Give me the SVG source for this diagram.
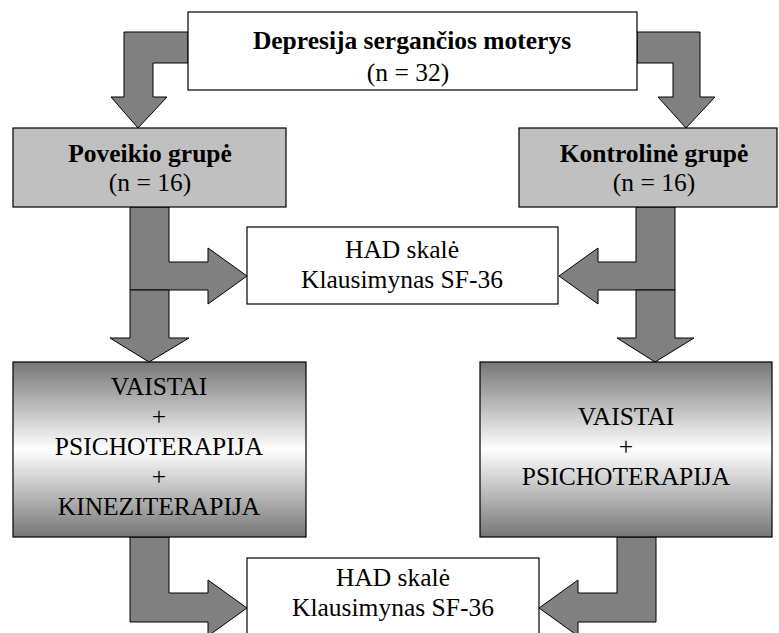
<svg xmlns="http://www.w3.org/2000/svg" width="779" height="633" viewBox="0 0 779 633">
<defs>
<linearGradient id="g" x1="0" y1="0" x2="0" y2="1">
<stop offset="0" stop-color="#767676"/>
<stop offset="0.5" stop-color="#ffffff"/>
<stop offset="1" stop-color="#767676"/>
</linearGradient>
<style>
.box{stroke:#000;stroke-width:1.2}
.white{fill:#fff}
.grey{fill:#c0c0c0}
.grad{fill:url(#g)}
.arr{fill:#808080;stroke:#000;stroke-width:1;stroke-linejoin:miter}
text{font-family:"Liberation Serif","Times New Roman",serif;font-size:25.5px;fill:#000;text-anchor:middle}
.b{font-weight:bold}
</style>
</defs>
<rect width="779" height="633" fill="#fff"/>
<g id="connectors">
<polygon class="arr" points="188,32 124,32 124,97 111,97 138,128 167,97 153,97 153,63 188,63"/>
<polygon class="arr" points="637,32 700,32 700,97 715,97 686,128 658,97 673,97 673,63 637,63"/>
<polygon class="arr" points="130,207 130,290 208,290 208,304 247,276 208,248 208,262 169,262 169,207"/>
<polygon class="arr" points="130,290 130,338 110,338 149,362 189,338 169,338 169,290"/>
<polygon class="arr" points="675,207 675,290 598,290 598,304 559,276 598,248 598,262 636,262 636,207"/>
<polygon class="arr" points="636,290 636,338 617,338 655,362 694,338 675,338 675,290"/>
<polygon class="arr" points="130,537 130,622 208,622 208,636 247,608 208,580 208,593 169,593 169,537"/>
<polygon class="arr" points="656,537 656,622 578,622 578,636 539,608 578,580 578,593 617,593 617,537"/>
</g>
<g id="top">
<rect class="box white" x="188" y="12" width="449" height="78" stroke-width="1.6"/>
<text class="b" x="412" y="49">Depresija sergančios moterys</text>
<text x="408" y="81">(n = 32)</text>
</g>
<g id="poveikio">
<rect class="box grey" x="13" y="128" width="273" height="79"/>
<text class="b" x="150" y="162">Poveikio grupė</text>
<text x="150" y="191">(n = 16)</text>
</g>
<g id="kontroline">
<rect class="box grey" x="519" y="128" width="258" height="79"/>
<text class="b" x="654" y="162">Kontrolinė grupė</text>
<text x="654" y="191">(n = 16)</text>
</g>
<g id="had1">
<rect class="box white" x="247" y="227" width="311" height="77"/>
<text x="402" y="258">HAD skalė</text>
<text x="402" y="288">Klausimynas SF-36</text>
</g>
<g id="gydymas1">
<rect class="box grad" x="13" y="362" width="293" height="175"/>
<text x="159" y="395">VAISTAI</text>
<text x="159" y="425">+</text>
<text x="159" y="455">PSICHOTERAPIJA</text>
<text x="159" y="485">+</text>
<text x="159" y="515">KINEZITERAPIJA</text>
</g>
<g id="gydymas2">
<rect class="box grad" x="480" y="362" width="292" height="175"/>
<text x="626" y="425">VAISTAI</text>
<text x="626" y="455">+</text>
<text x="626" y="485">PSICHOTERAPIJA</text>
</g>
<g id="had2">
<rect class="box white" x="247" y="558" width="292" height="100"/>
<text x="393" y="586">HAD skalė</text>
<text x="393" y="616">Klausimynas SF-36</text>
</g>
</svg>
